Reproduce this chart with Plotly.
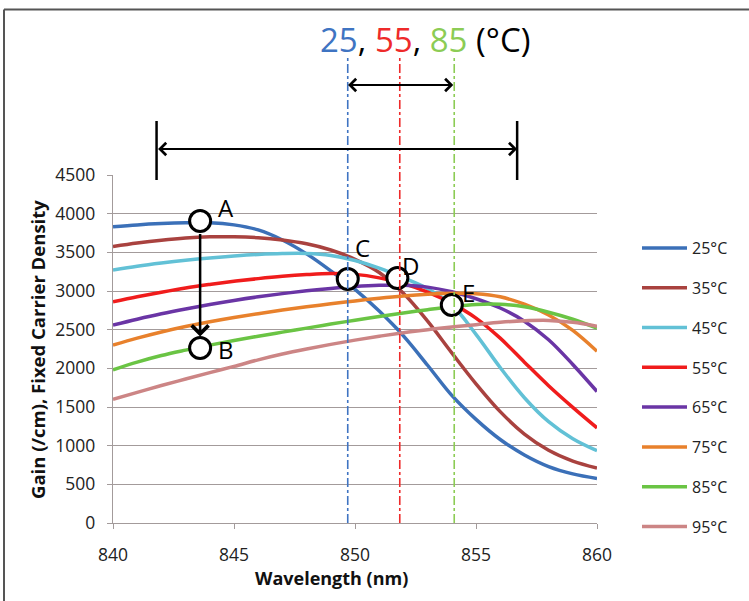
import plotly.graph_objects as go

# ---------------- data ----------------
wavelength = list(range(840, 861))
series_names = ["25°C", "35°C", "45°C", "55°C", "65°C", "75°C", "85°C", "95°C"]
gain_25 = [3830, 3855, 3872, 3882, 3883, 3855, 3790, 3660, 3480, 3260, 3020, 2740, 2420, 2040, 1650, 1340, 1080, 880, 730, 635, 575]
gain_35 = [3575, 3620, 3657, 3685, 3700, 3702, 3690, 3660, 3610, 3530, 3410, 3240, 2970, 2610, 2200, 1800, 1440, 1150, 940, 800, 710]
gain_45 = [3270, 3320, 3362, 3398, 3428, 3452, 3472, 3484, 3485, 3460, 3395, 3295, 3170, 3030, 2820, 2440, 2010, 1620, 1310, 1090, 935]
gain_55 = [2860, 2925, 2985, 3040, 3085, 3125, 3160, 3190, 3212, 3225, 3215, 3170, 3095, 2985, 2840, 2650, 2390, 2080, 1775, 1495, 1230]
gain_65 = [2560, 2635, 2705, 2768, 2826, 2878, 2925, 2966, 3002, 3033, 3058, 3073, 3074, 3050, 2990, 2900, 2780, 2610, 2370, 2050, 1700]
gain_75 = [2300, 2390, 2470, 2540, 2602, 2657, 2707, 2753, 2795, 2835, 2872, 2906, 2935, 2957, 2970, 2965, 2925, 2830, 2690, 2490, 2220]
gain_85 = [1980, 2080, 2165, 2235, 2300, 2360, 2415, 2468, 2520, 2572, 2622, 2670, 2715, 2758, 2797, 2825, 2828, 2795, 2725, 2635, 2520]
gain_95 = [1600, 1690, 1778, 1862, 1945, 2025, 2110, 2185, 2250, 2310, 2365, 2415, 2460, 2500, 2535, 2565, 2595, 2615, 2620, 2595, 2545]
all_gains = [gain_25, gain_35, gain_45, gain_55, gain_65, gain_75, gain_85, gain_95]

point_labels = ["A", "B", "C", "D", "E"]
point_wl = [843.6, 843.6, 849.7, 851.75, 854.0]
point_gain = [3905, 2263, 3155, 3168, 2819]

peak_wl = [849.7, 851.85, 854.1]          # 25, 55, 85 °C markers
peak_temps = ["25", "55", "85"]
wide_range = [841.8, 856.7]
narrow_range = [849.65, 854.06]

x_ticks = [840, 845, 850, 855, 860]
y_ticks = [0, 500, 1000, 1500, 2000, 2500, 3000, 3500, 4000, 4500]

# ---------------- style ----------------
colors = ["#3b70b8", "#a9423f", "#62c1d6", "#f01c1c", "#6a35a5", "#e8812c", "#6ac444", "#cc8585"]
peak_colors = ["#3f74c2", "#ee2a2a", "#8ccc55"]
FONT = "Open Sans"
W, H = 749, 601
L, R, T, B = 113, 152, 175, 78
PW, PH = W - L - R, H - T - B

def px_x(p):
    return (p - L) / PW

def px_y(p):
    return (H - B - p) / PH

fig = go.Figure()
for name, g, c in zip(series_names, all_gains, colors):
    fig.add_trace(go.Scatter(
        x=wavelength, y=g, name=name, mode="lines",
        line=dict(color=c, width=3.5, shape="spline", smoothing=1.0),
        legendgroup=name, showlegend=True))

fig.add_trace(go.Scatter(
    x=point_wl, y=point_gain, mode="markers", showlegend=False,
    marker=dict(size=21, color="white", line=dict(color="black", width=3))))

label_offsets = [(26, 14), (26, -2), (15, 32), (13, 13), (17, 13)]
for lab, xw, yg, (dx, dy) in zip(point_labels, point_wl, point_gain, label_offsets):
    fig.add_annotation(x=xw, y=yg, xref="x", yref="y", text=lab, showarrow=False,
                       xanchor="center", yanchor="middle",
                       xshift=dx, yshift=dy, font=dict(family=FONT, size=24, color="black"))

# A -> B arrow
fig.add_annotation(x=point_wl[1], y=point_gain[1] + 150, ax=point_wl[0], ay=point_gain[0] - 150,
                   xref="x", yref="y", axref="x", ayref="y", text="", showarrow=True,
                   arrowhead=4, arrowsize=1.3, arrowwidth=2.5, arrowcolor="black")

# vertical dash-dot lines
for wl, c in zip(peak_wl, peak_colors):
    fig.add_shape(type="line", xref="x", yref="paper", x0=wl, x1=wl, y0=0, y1=px_y(58),
                  line=dict(color=c, width=1.6, dash="dashdot"), layer="above")

# narrow double arrow
fig.add_annotation(x=narrow_range[1], y=px_y(85), ax=narrow_range[0], ay=0,
                   xref="x", yref="paper", axref="x", ayref="pixel", text="", showarrow=True,
                   arrowhead=4, startarrowhead=4, arrowside="end+start", arrowsize=1.2,
                   startarrowsize=1.2, arrowwidth=2, arrowcolor="black")
# wide double arrow with end bars
fig.add_annotation(x=wide_range[1], y=px_y(149), ax=wide_range[0], ay=0,
                   xref="x", yref="paper", axref="x", ayref="pixel", text="", showarrow=True,
                   arrowhead=4, startarrowhead=4, arrowside="end+start", arrowsize=1.2,
                   startarrowsize=1.2, arrowwidth=2, arrowcolor="black")
for wl in wide_range:
    fig.add_shape(type="line", xref="x", yref="paper", x0=wl, x1=wl, y0=px_y(180), y1=px_y(121),
                  line=dict(color="black", width=2.5))

# title
title_html = (f"<span style='color:{peak_colors[0]}'>{peak_temps[0]}</span>, "
              f"<span style='color:{peak_colors[1]}'>{peak_temps[1]}</span>, "
              f"<span style='color:{peak_colors[2]}'>{peak_temps[2]}</span> (°C)")
fig.add_annotation(x=px_x(425), y=px_y(40), xref="paper", yref="paper", text=title_html,
                   xanchor="center", yanchor="middle",
                   showarrow=False, font=dict(family=FONT, size=33, color="black"))

# axis titles
fig.add_annotation(x=px_x(331), y=px_y(578), xref="paper", yref="paper",
                   text="<b>Wavelength (nm)</b>", showarrow=False, xanchor="center", yanchor="middle",
                   font=dict(family=FONT, size=18, color="#111"))
fig.add_annotation(x=px_x(37), y=px_y(350), xref="paper", yref="paper", textangle=-90,
                   text="<b>Gain (/cm), Fixed Carrier Density</b>", showarrow=False,
                   xanchor="center", yanchor="middle",
                   font=dict(family=FONT, size=18.5, color="#111"))

# figure frame (top and left)
fig.add_shape(type="line", xref="paper", yref="paper", x0=px_x(4), x1=px_x(760), y0=px_y(9.5), y1=px_y(9.5),
              line=dict(color="#555555", width=2))
fig.add_shape(type="line", xref="paper", yref="paper", x0=px_x(4), x1=px_x(4), y0=px_y(9.5), y1=px_y(610),
              line=dict(color="#555555", width=2))

axis_common = dict(zeroline=False, showline=True, linecolor="#a39b9b", linewidth=1.3,
                   ticks="outside", ticklen=5, tickcolor="#a39b9b",
                   tickfont=dict(family=FONT, size=17.5, color="#222222"))
fig.update_xaxes(range=[840, 860], tickvals=x_ticks, showgrid=False, ticklabelstandoff=11,
                 **axis_common)
fig.update_yaxes(range=[0, 4500], tickvals=y_ticks, showgrid=True, gridcolor="#a39b9b",
                 gridwidth=1.3, ticklabelstandoff=8, **axis_common)

fig.update_layout(
    width=W, height=H, margin=dict(l=L, r=R, t=T, b=B, autoexpand=False),
    paper_bgcolor="white", plot_bgcolor="white",
    legend=dict(x=px_x(637), y=px_y(231), xanchor="left", yanchor="top",
                font=dict(family=FONT, size=16, color="#222"), tracegroupgap=16,
                itemwidth=45, bgcolor="rgba(0,0,0,0)"),
)
fig.write_html("out.html")
